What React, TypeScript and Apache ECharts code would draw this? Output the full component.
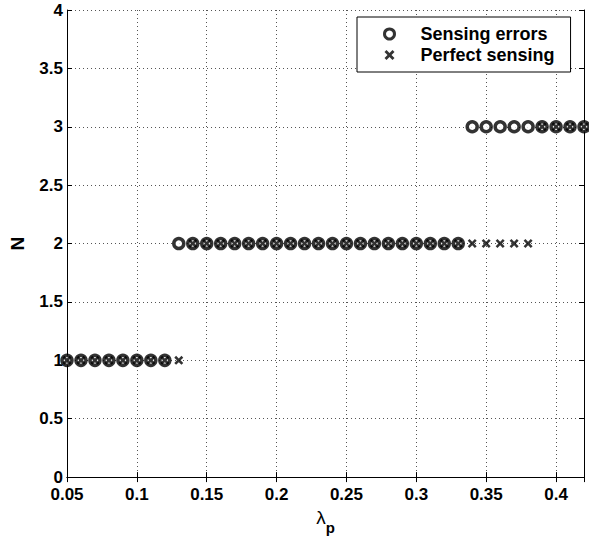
import React, { useEffect, useRef } from "react";
import * as echarts from "echarts";

const lambdaP = [
  0.05, 0.06, 0.07, 0.08, 0.09, 0.1, 0.11, 0.12, 0.13, 0.14, 0.15, 0.16, 0.17,
  0.18, 0.19, 0.2, 0.21, 0.22, 0.23, 0.24, 0.25, 0.26, 0.27, 0.28, 0.29, 0.3,
  0.31, 0.32, 0.33, 0.34, 0.35, 0.36, 0.37, 0.38, 0.39, 0.4, 0.41, 0.42,
];
const nSensingErrors = [
  1, 1, 1, 1, 1, 1, 1, 1, 2, 2, 2, 2, 2, 2, 2, 2, 2, 2, 2, 2, 2, 2, 2, 2, 2, 2,
  2, 2, 2, 3, 3, 3, 3, 3, 3, 3, 3, 3,
];
const nPerfectSensing = [
  1, 1, 1, 1, 1, 1, 1, 1, 1, 2, 2, 2, 2, 2, 2, 2, 2, 2, 2, 2, 2, 2, 2, 2, 2, 2,
  2, 2, 2, 2, 2, 2, 2, 2, 3, 3, 3, 3,
];
const seriesNames = ["Sensing errors", "Perfect sensing"];

const FONT = "'Liberation Sans', Arial, sans-serif";
const CROSS =
  "path://M2,0 L5,3 L8,0 L10,2 L7,5 L10,8 L8,10 L5,7 L2,10 L0,8 L3,5 L0,2 Z";

export default function App() {
  const ref = useRef<HTMLDivElement>(null);
  useEffect(() => {
    if (!ref.current) return;
    const chart = echarts.init(ref.current, undefined, { renderer: "svg" });
    const labelStyle = {
      color: "#000",
      fontFamily: FONT,
      fontWeight: "bold" as const,
      fontSize: 17,
    };
    const xCommon = {
      type: "value" as const,
      min: 0.05,
      max: 0.42,
      interval: 0.05,
      axisLine: { show: true, lineStyle: { color: "#000", width: 1 } },
      axisTick: { show: true, inside: true, length: 5, lineStyle: { color: "#000" } },
    };
    const yCommon = {
      type: "value" as const,
      min: 0,
      max: 4,
      interval: 0.5,
      axisLine: { show: true, lineStyle: { color: "#000", width: 1 } },
      axisTick: { show: true, inside: true, length: 5, lineStyle: { color: "#000" } },
    };
    chart.setOption({
      animation: false,
      backgroundColor: "#fff",
      grid: { left: 65, right: 5, top: 10, bottom: 58, containLabel: false },
      legend: {
        orient: "vertical",
        left: 357,
        top: 17,
        padding: [8, 16, 8, 26],
        itemWidth: 10,
        itemHeight: 10,
        itemGap: 3,
        borderColor: "#000",
        borderWidth: 1,
        backgroundColor: "#fff",
        textStyle: { ...labelStyle, fontSize: 18, padding: [0, 0, 0, 21] },
        data: [
          {
            name: seriesNames[0],
            icon: "circle",
            itemStyle: { color: "#fff", borderColor: "#000", borderWidth: 3 },
          },
          { name: seriesNames[1], icon: CROSS },
        ],
      },
      xAxis: [
        {
          ...xCommon,
          position: "bottom",
          name: "{l|λ}{s|p}",
          nameLocation: "middle",
          nameGap: 18,
          nameTextStyle: {
            rich: {
              l: { ...labelStyle, fontSize: 19, fontWeight: "normal" },
              s: { ...labelStyle, fontSize: 15, padding: [20, 0, 0, 0] },
            },
          },
          axisLabel: {
            ...labelStyle,
            margin: 9,
            formatter: (v: number) => {
              const k = Math.round(v * 100);
              return k % 5 === 0 ? String(Math.round(v * 100) / 100) : "";
            },
          },
          splitLine: {
            show: true,
            lineStyle: { color: "#555", type: [1, 3], width: 1 },
          },
        },
        {
          ...xCommon,
          position: "top",
          axisLabel: { show: false },
          splitLine: { show: false },
        },
      ],
      yAxis: [
        {
          ...yCommon,
          position: "left",
          name: "N",
          nameLocation: "middle",
          nameGap: 40,
          nameTextStyle: { ...labelStyle, fontSize: 19 },
          axisLabel: { ...labelStyle, margin: 4 },
          splitLine: {
            show: true,
            lineStyle: { color: "#555", type: [1, 3], width: 1 },
          },
        },
        {
          ...yCommon,
          position: "right",
          axisLabel: { show: false },
          splitLine: { show: false },
        },
      ],
      series: [
        {
          name: seriesNames[0],
          type: "scatter",
          symbol: "circle",
          symbolSize: 10,
          itemStyle: { color: "#fff", borderColor: "#000", borderWidth: 3.5 },
          data: lambdaP.map((x, i) => [x, nSensingErrors[i]]),
          z: 3,
        },
        {
          name: seriesNames[1],
          type: "scatter",
          symbol: CROSS,
          symbolSize: 9,
          itemStyle: { color: "#000" },
          data: lambdaP.map((x, i) => [x, nPerfectSensing[i]]),
          z: 4,
        },
      ],
    });
    return () => chart.dispose();
  }, []);
  return (
    <div
      ref={ref}
      style={{ position: "absolute", left: 0, top: 0, width: 589, height: 540 }}
    />
  );
}
